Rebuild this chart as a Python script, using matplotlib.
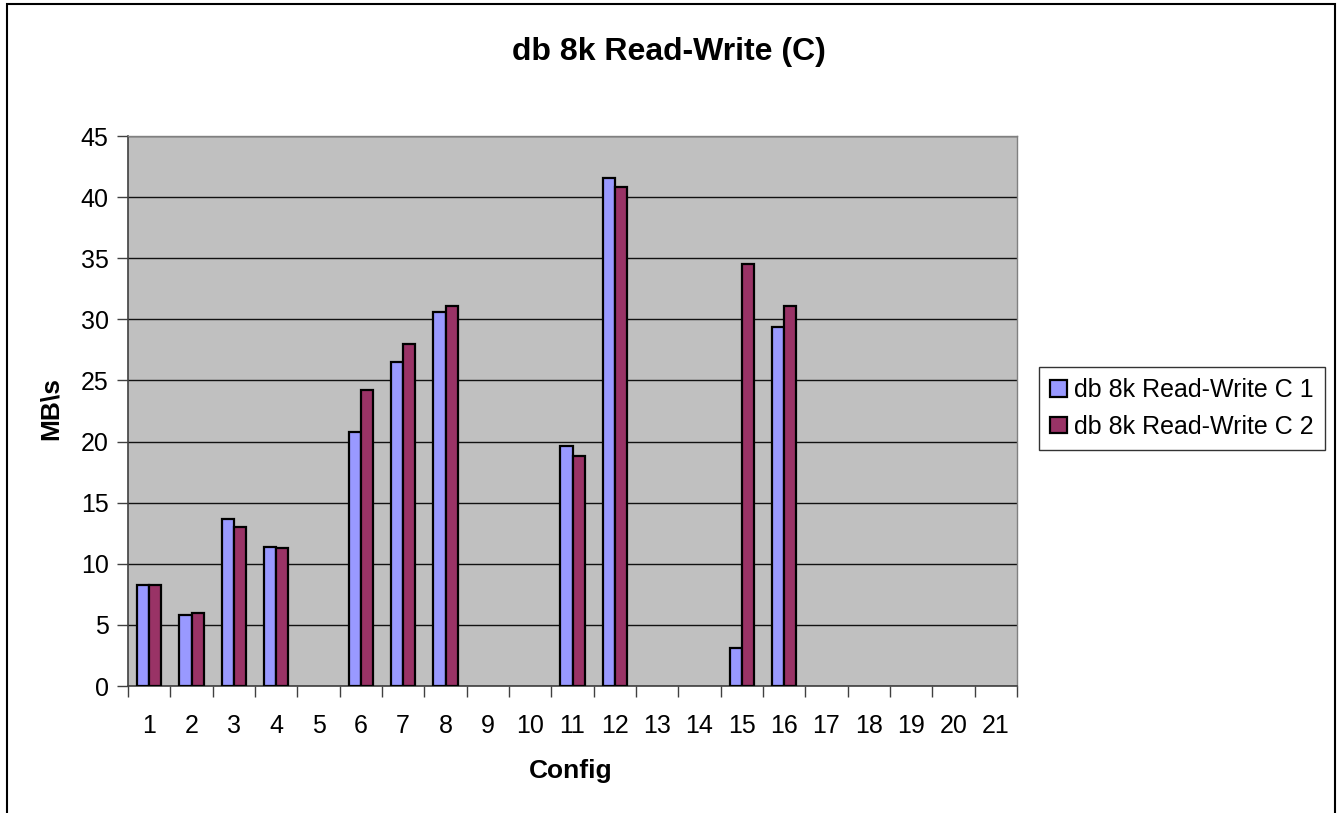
import matplotlib
matplotlib.use("Agg")
import matplotlib.pyplot as plt
import numpy as np
from matplotlib.patches import Rectangle

plt.rcParams['font.family'] = ['Liberation Sans', 'DejaVu Sans']

configs = [str(i) for i in range(1, 22)]
series_names = ["db 8k Read-Write C 1", "db 8k Read-Write C 2"]
c1 = [8.3, 5.8, 13.7, 11.4, 0, 20.8, 26.5, 30.6, 0, 0, 19.6, 41.6, 0, 0, 3.1, 29.4, 0, 0, 0, 0, 0]
c2 = [8.3, 6.0, 13.0, 11.3, 0, 24.2, 28.0, 31.1, 0, 0, 18.8, 40.8, 0, 0, 34.5, 31.1, 0, 0, 0, 0, 0]
colors = ["#9999FF", "#993366"]

W, H = 1342, 813
fig = plt.figure(figsize=(W / 100, H / 100), dpi=100)
fig.patch.set_facecolor("white")

# outer chart border (bottom runs past the canvas)
fig.add_artist(Rectangle((7 / W, -0.01), (1335 - 7) / W, 1.01 - 4 / H,
                         transform=fig.transFigure, fill=False,
                         edgecolor="black", linewidth=1.5))

left, right, top, bottom = 128, 1017, 136, 686
ax = fig.add_axes([left / W, 1 - bottom / H, (right - left) / W, (bottom - top) / H])
ax.set_facecolor("#C0C0C0")

x = np.arange(len(configs))
bw = 0.29
for vals, col, name, off in zip([c1, c2], colors, series_names, [-bw / 2, bw / 2]):
    v = np.array(vals, dtype=float)
    keep = v > 0  # empty configs get no bar
    ax.bar(x[keep] + off, v[keep], width=bw, color=col, edgecolor="black",
           linewidth=1.6, label=name, zorder=3)

ax.set_xlim(-0.5, len(configs) - 0.5)
ax.set_ylim(0, 45)
ax.set_yticks(np.arange(0, 46, 5))
ax.yaxis.grid(True, color="#111111", linewidth=1.0, zorder=1)
ax.set_axisbelow(True)

ax.set_xticks(x)
ax.set_xticklabels(configs)
ax.set_xticks(np.arange(-0.5, len(configs), 1), minor=True)
ax.tick_params(axis="x", which="major", length=0, pad=20, labelsize=18)
ax.tick_params(axis="x", which="minor", length=8, width=1, color="#404040", direction="out")
ax.tick_params(axis="y", length=8, width=1, color="#404040", direction="out", pad=6, labelsize=18)

for s in ["top", "right"]:
    ax.spines[s].set_color("#808080")
    ax.spines[s].set_linewidth(1)
for s in ["left", "bottom"]:
    ax.spines[s].set_color("#404040")
    ax.spines[s].set_linewidth(1.2)

fig.text(669 / W, 1 - 52 / H, "db 8k Read-Write (C)", ha="center", va="center",
         fontsize=23, fontweight="bold")
fig.text(51 / W, 1 - 408 / H, "MB\\s", ha="center", va="center", rotation=90,
         fontsize=19, fontweight="bold")
fig.text(571 / W, 1 - 771 / H, "Config", ha="center", va="center",
         fontsize=19, fontweight="bold")

leg = fig.legend(loc="upper left", bbox_to_anchor=(1039 / W, 1 - 367 / H),
                 frameon=True, fancybox=False, edgecolor="black", fontsize=18,
                 handlelength=0.65, handleheight=0.65, handletextpad=0.3,
                 borderpad=0.45, labelspacing=0.5, borderaxespad=0)
leg.get_frame().set_linewidth(1)

fig.savefig("out.png", dpi=100, facecolor="white")
